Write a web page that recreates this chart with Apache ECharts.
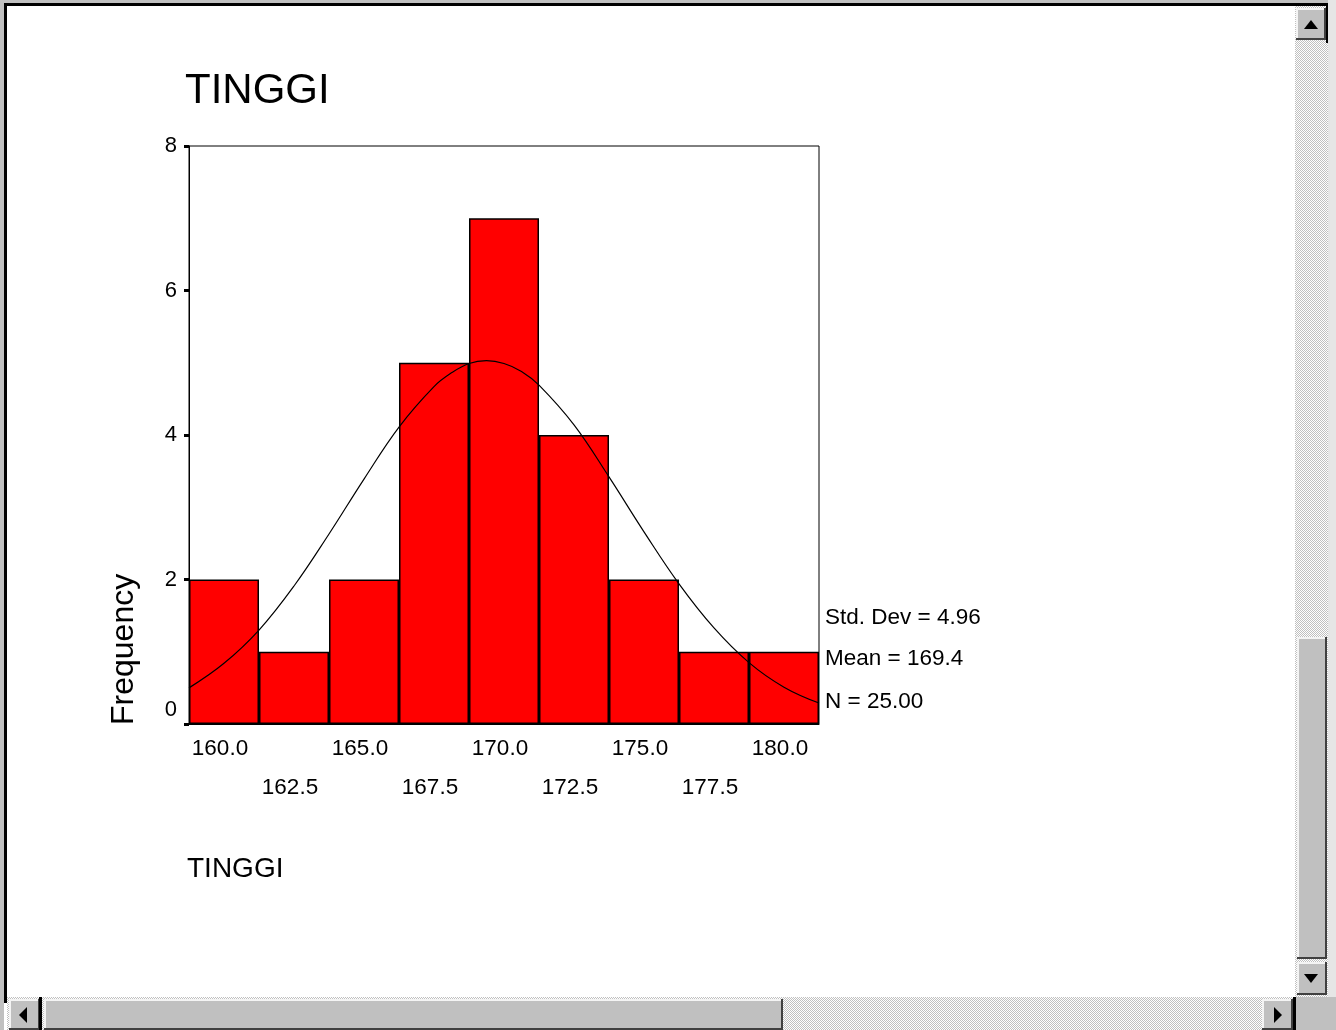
<!DOCTYPE html>
<html>
<head>
<meta charset="utf-8">
<script src="https://cdn.jsdelivr.net/npm/echarts@6/dist/echarts.min.js"></script>
<style>
    html, body { margin: 0; padding: 0; background: #fff; }
    #container { width: 1336px; height: 1030px; }
</style>
</head>
<body>
<div id="container"></div>
<script>
// 直方图的数据, 从图上读出来的
var binLabels = ['160.0', '162.5', '165.0', '167.5', '170.0', '172.5', '175.0', '177.5', '180.0']
var binCounts = [2, 1, 2, 5, 7, 4, 2, 1, 1]

// 正态曲线, 按图上的点读
var curveX = [158.75, 160, 161.25, 162.5, 163.75, 165, 166.25, 167.5, 168.125, 168.75, 169.375,
              170, 170.625, 171.25, 172.5, 173.75, 175, 176.25, 177.5, 178.75, 180, 181.25]
var curveY = [0.50, 0.84, 1.30, 1.91, 2.63, 3.39, 4.11, 4.67, 4.86, 4.99, 5.03,
              4.99, 4.88, 4.69, 4.14, 3.42, 2.66, 1.94, 1.33, 0.85, 0.51, 0.29]

var statLines = ['Std. Dev = 4.96', 'Mean = 169.4', 'N = 25.00']
var chartTitle = 'TINGGI'
var xTitle = 'TINGGI'
var yTitle = 'Frequency'

var FONT = '"Liberation Sans", Arial, sans-serif'

// 滚动条那种点点的底纹
var hatch = function () {
    var c = document.createElement('canvas')
    c.width = 2
    c.height = 2
    var ctx = c.getContext('2d')
    ctx.fillStyle = '#ffffff'
    ctx.fillRect(0, 0, 2, 2)
    ctx.fillStyle = '#c0c0c0'
    ctx.fillRect(0, 0, 1, 1)
    ctx.fillRect(1, 1, 1, 1)
    return { image: c, repeat: 'repeat' }
}

var rect = function (x, y, w, h, fill) {
    return { type: 'rect', silent: true, shape: { x: x, y: y, width: w, height: h }, style: { fill: fill } }
}

// windows 风格的凸起按钮
var bevel = function (x, y, w, h) {
    return [
        rect(x, y, w, h, '#c0c0c0'),
        rect(x, y, w, 2, '#f4f4f4'),
        rect(x, y, 2, h, '#f4f4f4'),
        rect(x + w - 2, y, 2, h, '#404040'),
        rect(x, y + h - 2, w, 2, '#404040'),
    ]
}

var tri = function (points) {
    return { type: 'polygon', silent: true, shape: { points: points }, style: { fill: '#000' } }
}

var windowChrome = function () {
    var g = []
    // 外框
    g.push(rect(0, 0, 1336, 3, '#c0c0c0'))
    g.push(rect(0, 3, 1330, 3, '#000'))
    g.push(rect(0, 0, 4, 1030, '#c0c0c0'))
    g.push(rect(4, 3, 3, 1000, '#000'))
    g.push(rect(1328, 0, 8, 1030, '#e6e6e6'))
    // 竖滚动条
    g.push({ type: 'rect', silent: true, shape: { x: 1295, y: 6, width: 33, height: 992 }, style: { fill: hatch() } })
    g = g.concat(bevel(1296, 8, 30, 32))
    g.push(tri([[1304, 29], [1318, 29], [1311, 20]]))
    g = g.concat(bevel(1297, 637, 30, 322))
    g = g.concat(bevel(1297, 962, 30, 33))
    g.push(tri([[1304, 974], [1318, 974], [1311, 983]]))
    g.push(rect(1326, 3, 2, 40, '#000'))
    // 横滚动条
    g.push({ type: 'rect', silent: true, shape: { x: 7, y: 997, width: 1290, height: 33 }, style: { fill: hatch() } })
    g = g.concat(bevel(9, 999, 31, 31))
    g.push(tri([[19, 1015], [27, 1007], [27, 1023]]))
    g.push(rect(39, 997, 3, 33, '#000'))
    g = g.concat(bevel(44, 999, 739, 31))
    g = g.concat(bevel(1262, 999, 31, 31))
    g.push(tri([[1282, 1015], [1274, 1007], [1274, 1023]]))
    g.push(rect(1293, 997, 43, 33, '#c0c0c0'))
    g.push(rect(1293, 997, 3, 33, '#000'))
    return g
}

var textEl = function (text, x, y, size, opts) {
    var o = opts || {}
    return {
        type: 'text',
        silent: true,
        x: x,
        y: y,
        rotation: o.rotation || 0,
        style: {
            text: text,
            fill: '#000',
            fontSize: size,
            fontFamily: FONT,
            align: o.align || 'left',
            verticalAlign: 'middle',
        },
    }
}

const chartInit = function () {
    var myChart = echarts.init(document.getElementById('container'))

    var curveData = []
    for (let i = 0; i < curveX.length; i++) {
        curveData.push([curveX[i], curveY[i]])
    }

    var labels = []
    labels.push(textEl(chartTitle, 185, 91, 42))
    labels.push(textEl(yTitle, 124, 725, 32, { rotation: Math.PI / 2 }))
    labels.push(textEl(xTitle, 187, 869, 28))
    var statY = [618, 659, 702]
    for (let i = 0; i < statLines.length; i++) {
        labels.push(textEl(statLines[i], 825, statY[i], 22.5))
    }

    var option = {
        backgroundColor: '#fff',
        animation: false,
        textStyle: { fontFamily: FONT },
        grid: {
            left: 189,
            top: 146,
            right: 517,
            bottom: 306,
            show: true,
            borderColor: '#000',
            borderWidth: 1,
            containLabel: false,
        },
        xAxis: [
            {
                type: 'category',
                data: binLabels,
                boundaryGap: true,
                axisLine: { lineStyle: { color: '#000', width: 1 } },
                axisTick: { alignWithLabel: true, length: 4, lineStyle: { color: '#000', width: 3 } },
                axisLabel: {
                    color: '#000',
                    fontSize: 22.5,
                    lineHeight: 39,
                    margin: 5,
                    interval: 0,
                    padding: [0, 8, 0, 0],
                    formatter: function (v, i) {
                        return i % 2 ? '\n' + v : v
                    },
                },
            },
            {
                type: 'value',
                min: 158.75,
                max: 181.25,
                show: false,
            },
        ],
        yAxis: {
            type: 'value',
            min: 0,
            max: 8,
            interval: 2,
            splitLine: { show: false },
            axisLine: { show: true, lineStyle: { color: '#000', width: 1 } },
            axisTick: { show: true, length: 5, lineStyle: { color: '#000', width: 3 } },
            axisLabel: {
                color: '#000',
                fontSize: 22,
                margin: 12,
                formatter: function (v) {
                    return v === 0 ? '{z|0}' : String(v)
                },
                rich: {
                    z: { fontSize: 22, color: '#000', padding: [0, 0, 28, 0] },
                },
            },
        },
        series: [
            {
                type: 'bar',
                data: binCounts,
                barCategoryGap: '0%',
                itemStyle: { color: '#ff0000', borderColor: '#000', borderWidth: 1.5 },
                z: 2,
            },
            {
                type: 'line',
                xAxisIndex: 1,
                data: curveData,
                smooth: 0.4,
                symbol: 'none',
                lineStyle: { color: '#000', width: 1.2 },
                z: 3,
            },
        ],
        graphic: windowChrome().concat(labels),
    }

    myChart.setOption(option, true)
}

chartInit()
</script>
</body>
</html>
